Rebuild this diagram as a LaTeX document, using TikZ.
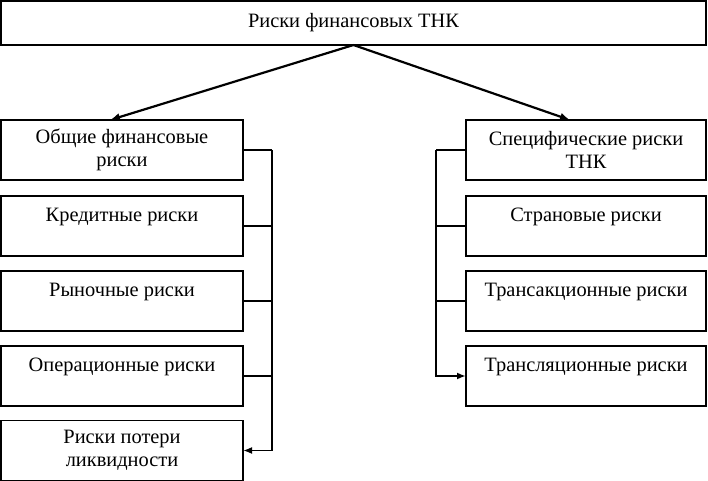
\documentclass[tikz,border=0pt]{standalone}
\usepackage{fontspec}
\setmainfont{Liberation Serif}
\usetikzlibrary{arrows.meta}
\begin{document}
\begin{tikzpicture}[x=0.5pt,y=-0.5pt,inner sep=0pt,outer sep=0pt,line width=0.6pt,font=\fontsize{10.2}{11.5}\selectfont,
riskbox/.style={draw,rectangle,align=center,minimum height=30pt,line width=0.6pt},
onerow/.style={riskbox,text height=12.5pt,text depth=17pt},
link/.style={-{Latex[length=5pt,width=4pt]},line width=1.1pt},
feed/.style={-{Latex[length=4.5pt,width=3.5pt]},line width=0.9pt}]

\useasboundingbox (0,0) rectangle (708,481);

\draw (353.5,23) node[riskbox,minimum width=352.5pt,minimum height=22pt] (root) {Риски финансовых ТНК};

% left column
\draw (122,150) node[riskbox,minimum width=121pt] (gen) {Общие финансовые\\риски};
\draw (122,196) node[onerow,minimum width=121pt,anchor=north] (cred) {Кредитные риски};
\draw (122,271) node[onerow,minimum width=121pt,anchor=north] (mkt) {Рыночные риски};
\draw (122,346) node[onerow,minimum width=121pt,anchor=north] (oper) {Операционные риски};
\draw (122,450.5) node[riskbox,minimum width=121pt] (liq) {Риски потери\\ликвидности};

% right column
\draw (586,150) node[riskbox,minimum width=120pt] (spec) {Специфические риски\\ТНК};
\draw (586,196) node[onerow,minimum width=120pt,anchor=north] (cntry) {Страновые риски};
\draw (586,271) node[onerow,minimum width=120pt,anchor=north] (trans) {Трансакционные риски};
\draw (586,346) node[onerow,minimum width=120pt,anchor=north] (trl) {Трансляционные риски};

\draw[link] (root.south) -- ([xshift=-6pt]gen.north);
\draw[link] (root.south) -- ([xshift=-8pt]spec.north);

\draw (gen.east) -- ++(29,0) coordinate (lbus);
\draw[feed] (lbus) |- (liq.east);
\foreach \n in {cred,mkt,oper}
  \draw (\n.east) -- (\n.east -| lbus);

\draw (spec.west) -- ++(-30,0) coordinate (rbus);
\draw[feed] (rbus) |- (trl.west);
\foreach \n in {cntry,trans}
  \draw (\n.west) -- (\n.west -| rbus);
\end{tikzpicture}
\end{document}
